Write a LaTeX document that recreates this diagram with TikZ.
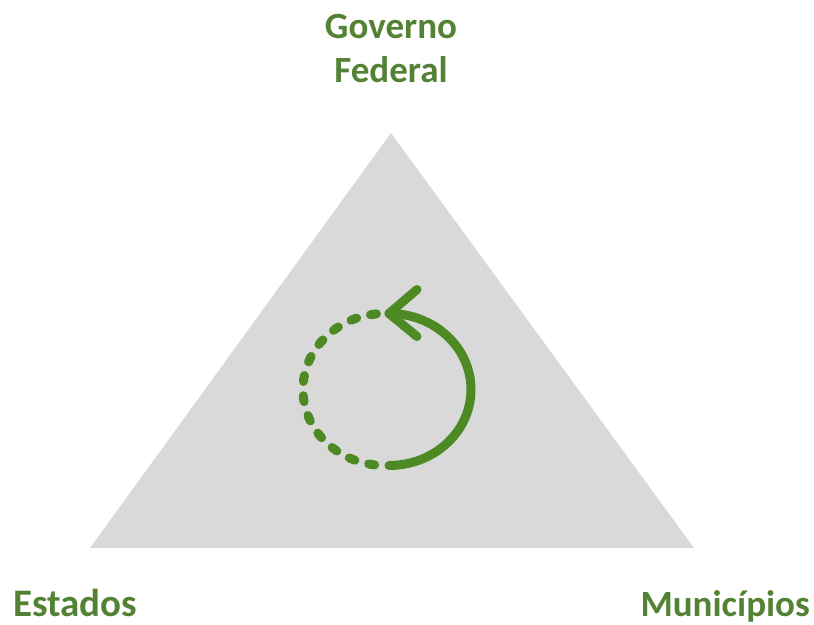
\documentclass[tikz,border=0pt]{standalone}
\usepackage{fontspec}
\setmainfont{Carlito}
\definecolor{txtgreen}{HTML}{548235}
\definecolor{arrgreen}{HTML}{4E8A23}
\definecolor{trigray}{HTML}{D9D9D9}
\tikzset{
  lbl/.style={text=txtgreen, font=\bfseries\fontsize{37}{44}\selectfont, inner sep=0pt},
  cyc/.style={draw=arrgreen, line width=9pt, line cap=round, line join=round},
}
\begin{document}
\begin{tikzpicture}[x=1pt,y=1pt]
\useasboundingbox (0,0) rectangle (814,624);
% triangle
\coordinate (apex) at (391,491);
\coordinate (bl) at (90,76);
\coordinate (br) at (694,76);
\fill[trigray] (apex) -- (bl) -- (br) -- cycle;
% cycle arrow
\coordinate (c) at (385,234.5);
\draw[cyc] ([shift={(-90:82 and 76)}]c) ++(4,0) arc[start angle=-90, end angle=90, x radius=82, y radius=76] coordinate (tip);
\draw[cyc] (tip) -- ++(28,24) (tip) -- ++(28,-23);
\draw[cyc, dash pattern=on 6pt off 14.3pt] ([shift={(96:82 and 76)}]c) arc[start angle=96, end angle=268, x radius=82, y radius=76];
% labels
\node[lbl, anchor=base] (gov) at (391,585) {Governo};
\node[lbl, anchor=base] (fed) at (391,541) {Federal};
\node[lbl, anchor=base west, font=\bfseries\fontsize{39}{44}\selectfont] (est) at (13,8) {Estados};
\node[lbl, anchor=base east] (mun) at (810,8) {Municípios};
\end{tikzpicture}
\end{document}
